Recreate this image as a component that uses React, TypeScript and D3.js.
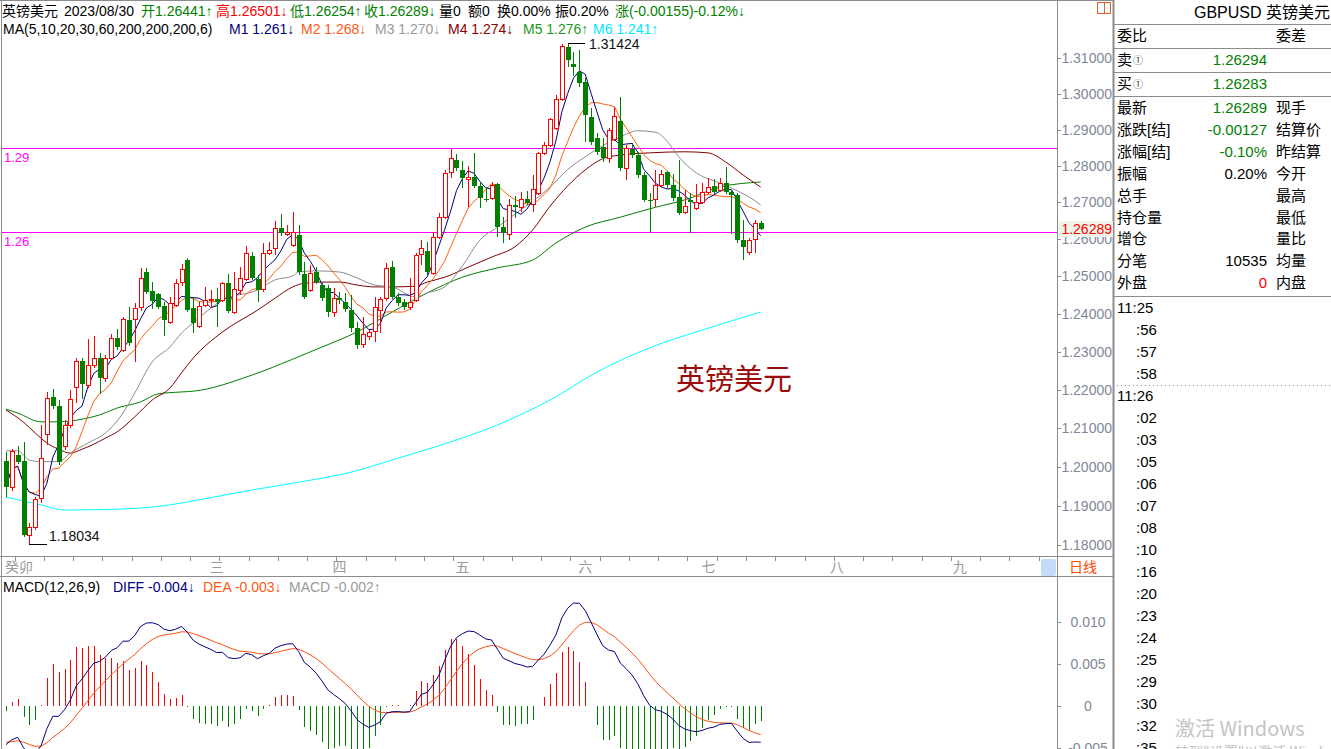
import React from "react";
import * as d3 from "d3";

const W = 1331;
const H = 749;

// Daily candles (GBPUSD)
const opens = [1.2015,1.1949,1.2030,1.2015,1.1825,1.1846,1.1919,1.2085,1.2181,1.2157,1.2053,1.2108,1.2207,1.2275,1.2212,1.2265,1.2283,1.2230,1.2283,1.2336,1.2304,1.2384,1.2386,1.2418,1.2512,1.2461,1.2453,1.2421,1.2378,1.2424,1.2485,1.2544,1.2416,1.2368,1.2424,1.2437,1.2440,1.2437,1.2482,1.2405,1.2464,1.2493,1.2555,1.2493,1.2466,1.2563,1.2577,1.2631,1.2614,1.2585,1.2612,1.2506,1.2464,1.2512,1.2477,1.2469,1.2405,1.2442,1.2432,1.2410,1.2362,1.2320,1.2341,1.2354,1.2410,1.2442,1.2525,1.2445,1.2432,1.2418,1.2437,1.2560,1.2569,1.2509,1.2606,1.2660,1.2783,1.2816,1.2789,1.2764,1.2770,1.2745,1.2709,1.2712,1.2750,1.2633,1.2614,1.2693,1.2688,1.2709,1.2696,1.2726,1.2836,1.2858,1.2905,1.2985,1.3131,1.3083,1.3061,1.3033,1.2935,1.2877,1.2852,1.2822,1.2874,1.2924,1.2794,1.2847,1.2830,1.2775,1.2707,1.2709,1.2748,1.2783,1.2748,1.2715,1.2674,1.2707,1.2685,1.2701,1.2729,1.2745,1.2734,1.2753,1.2729,1.2721,1.2598,1.2566,1.2601,1.26441];
const highs = [1.2039,1.2045,1.2053,1.2064,1.1856,1.1922,1.2108,1.2194,1.2202,1.2173,1.2121,1.2199,1.2283,1.2283,1.2333,1.2341,1.2296,1.2291,1.2347,1.2360,1.2392,1.2418,1.2429,1.2523,1.2523,1.2485,1.2456,1.2432,1.2445,1.2493,1.2533,1.2550,1.2442,1.2432,1.2472,1.2464,1.2469,1.2485,1.2506,1.2512,1.2525,1.2582,1.2566,1.2504,1.2590,1.2593,1.2650,1.2669,1.2639,1.2674,1.2639,1.2539,1.2531,1.2525,1.2482,1.2477,1.2469,1.2458,1.2456,1.2450,1.2378,1.2392,1.2357,1.2445,1.2445,1.2536,1.2542,1.2456,1.2440,1.2496,1.2563,1.2598,1.2593,1.2620,1.2671,1.2789,1.2847,1.2833,1.2814,1.2800,1.2836,1.2756,1.2742,1.2756,1.2753,1.2660,1.2709,1.2718,1.2729,1.2731,1.2775,1.2839,1.2866,1.2932,1.2996,1.3140,1.31424,1.3117,1.3122,1.3044,1.2960,1.2891,1.2877,1.2905,1.2963,1.2991,1.2858,1.2863,1.2838,1.2783,1.2726,1.2789,1.2789,1.2786,1.2778,1.2816,1.2734,1.2726,1.2750,1.2753,1.2767,1.2764,1.2767,1.2797,1.2734,1.2726,1.2652,1.2604,1.2652,1.26501];
const lows = [1.1923,1.1938,1.2008,1.1820,1.18034,1.1838,1.1907,1.2056,1.2150,1.2005,1.2043,1.2100,1.2165,1.2176,1.2205,1.2257,1.2189,1.2220,1.2278,1.2304,1.2298,1.2316,1.2273,1.2408,1.2452,1.2413,1.2412,1.2341,1.2373,1.2418,1.2474,1.2404,1.2349,1.2362,1.2418,1.2416,1.2365,1.2432,1.2402,1.2400,1.2450,1.2488,1.2490,1.2432,1.2458,1.2558,1.2558,1.2609,1.2609,1.2580,1.2505,1.2440,1.2458,1.2480,1.2435,1.2392,1.2392,1.2426,1.2405,1.2352,1.2307,1.2310,1.2331,1.2325,1.2349,1.2435,1.2440,1.2420,1.2410,1.2410,1.2432,1.2531,1.2505,1.2503,1.2601,1.2655,1.2767,1.2787,1.2740,1.2688,1.2740,1.2685,1.2700,1.2707,1.2606,1.2590,1.2598,1.2658,1.2674,1.2693,1.2674,1.2720,1.2830,1.2852,1.2898,1.2980,1.3075,1.3049,1.3020,1.2866,1.2858,1.2830,1.2812,1.2808,1.2868,1.2785,1.2762,1.2822,1.2767,1.2700,1.2620,1.2688,1.2742,1.2740,1.2705,1.2665,1.2668,1.2617,1.2680,1.2696,1.2724,1.2724,1.2729,1.2724,1.2614,1.2590,1.2544,1.2558,1.2563,1.26254];
const closes = [1.1949,1.2041,1.2013,1.1825,1.1846,1.1917,1.2022,1.2178,1.2157,1.2012,1.2108,1.2176,1.2275,1.2215,1.2265,1.2283,1.2230,1.2283,1.2336,1.2312,1.2386,1.2323,1.2416,1.2496,1.2458,1.2434,1.2418,1.2384,1.2429,1.2482,1.2520,1.2410,1.2376,1.2421,1.2437,1.2440,1.2432,1.2482,1.2408,1.2466,1.2496,1.2563,1.2496,1.2464,1.2563,1.2571,1.2631,1.2617,1.2620,1.2620,1.2512,1.2445,1.2509,1.2485,1.2442,1.2405,1.2442,1.2437,1.2413,1.2362,1.2318,1.2347,1.2352,1.2418,1.2440,1.2523,1.2445,1.2429,1.2418,1.2432,1.2558,1.2577,1.2512,1.2606,1.2660,1.2781,1.2822,1.2794,1.2767,1.2770,1.2745,1.2712,1.2707,1.2748,1.2633,1.2617,1.2693,1.2688,1.2709,1.2699,1.2737,1.2836,1.2858,1.2930,1.2985,1.3134,1.3094,1.3075,1.3030,1.2941,1.2866,1.2838,1.2822,1.2899,1.2938,1.2794,1.2849,1.2830,1.2775,1.2707,1.2704,1.2748,1.2778,1.2748,1.2712,1.2671,1.2690,1.2701,1.2701,1.2729,1.2742,1.2729,1.2753,1.2729,1.2721,1.2598,1.2579,1.2598,1.2644,1.26289];

const ma20Pts: [number, number][] = [[0,1.2041],[2,1.2041],[4,1.2017],[6,1.2013],[9,1.2013],[11,1.2035],[14,1.2061],[17,1.2087],[20,1.2139],[22,1.2191],[25,1.2273],[28,1.2312],[30,1.2349],[32,1.2376],[37,1.2437],[43,1.2464],[46,1.2491],[49,1.2501],[50,1.2512],[53,1.2515],[57,1.2512],[60,1.2496],[63,1.2477],[66,1.2472],[70,1.2445],[72,1.2456],[75,1.2472],[78,1.2528],[81,1.2598],[84,1.2633],[88,1.2680],[93,1.2742],[96,1.2790],[99,1.2825],[102,1.2856],[105,1.2880],[108,1.2897],[111,1.2893],[113,1.2868],[115,1.2825],[118,1.2781],[122,1.2753],[125,1.2732],[128,1.2705],[129,1.2693]];
const ma30Pts: [number, number][] = [[0,1.2147],[3,1.2115],[5,1.2087],[7,1.2061],[9,1.2045],[11,1.2035],[13,1.2045],[15,1.2058],[17,1.2074],[19,1.2090],[22,1.2129],[25,1.2173],[28,1.2204],[30,1.2244],[32,1.2283],[37,1.2352],[43,1.2410],[46,1.2442],[49,1.2472],[51,1.2482],[54,1.2485],[57,1.2485],[60,1.2477],[63,1.2472],[66,1.2472],[70,1.2474],[72,1.2485],[75,1.2498],[79,1.2525],[83,1.2552],[87,1.2580],[90,1.2625],[93,1.2690],[96,1.2745],[99,1.2789],[102,1.2820],[105,1.2830],[110,1.2836],[116,1.2839],[120,1.2836],[123,1.2811],[126,1.2775],[129,1.2742]];
const ma60Pts: [number, number][] = [[0,1.2149],[2,1.2139],[6,1.2116],[9,1.2116],[13,1.2123],[16,1.2134],[19,1.2152],[23,1.2168],[26,1.2189],[30,1.2194],[32,1.2196],[42,1.2238],[49,1.2280],[54,1.2312],[60,1.2352],[66,1.2405],[72,1.2456],[78,1.2498],[84,1.2523],[90,1.2544],[94,1.2590],[99,1.2633],[105,1.2660],[111,1.2687],[116,1.2707],[122,1.2742],[129,1.2756]];
const ma200Pts: [number, number][] = [[0,1.1922],[6,1.1902],[10,1.1889],[19,1.1891],[28,1.1902],[33,1.1915],[42,1.1940],[50,1.1960],[59,1.1986],[67,1.2022],[76,1.2064],[84,1.2108],[93,1.2173],[101,1.2246],[110,1.2310],[119,1.2357],[129,1.2405]];

// MACD state at the first bar
const macdStart = { ema12: 1.2010, ema26: 1.2056, dea: -0.0043 };

const priceTicks = [1.31, 1.30, 1.29, 1.28, 1.27, 1.26, 1.25, 1.24, 1.23, 1.22, 1.21, 1.20, 1.19, 1.18];
const macdTicks = [0.01, 0.005, 0, -0.005];
const macdTickLabels = ["0.010", "0.005", "0", "-0.005"];
const monthLabels = ["癸卯", "三", "四", "五", "六", "七", "八", "九"];
const monthIdx = [0, 35, 56, 77, 98, 119, 141, 162];
const levelLines = [1.285, 1.262];
const levelLabels = ["1.29", "1.26"];

const infoLabels = ["最新", "涨跌[结]", "涨幅[结]", "振幅", "总手", "持仓量", "增仓", "分笔", "外盘"];
const infoValues = ["1.26289", "-0.00127", "-0.10%", "0.20%", "", "", "", "10535", "0"];
const infoRight = ["现手", "结算价", "昨结算", "今开", "最高", "最低", "量比", "均量", "内盘"];
const timeList = ["11:25", ":56", ":57", ":58", "11:26", ":02", ":03", ":05", ":06", ":07", ":08", ":10", ":16", ":20", ":23", ":24", ":25", ":29", ":30", ":32", ":35"];

const RED = "#ff0000";
const GREEN = "#008000";
const FONT = "'Liberation Sans', Arial, 'Noto Sans CJK SC', sans-serif";

export default function App() {
  const n = closes.length;
  const x = d3.scaleLinear().domain([0, n - 1]).range([6, 760.7]);
  const y = d3.scaleLog().domain([1.18, 1.31]).range([545, 58]);
  const ym = d3.scaleLinear().domain([-0.005, 0.01]).range([748, 622]);

  const sma = (p: number) =>
    closes.map((_, i) => d3.mean(closes.slice(Math.max(0, i - p + 1), i + 1)) as number);
  const ma5 = sma(5);
  const ma10 = sma(10);

  let e12 = macdStart.ema12, e26 = macdStart.ema26, dea = macdStart.dea;
  const diffArr: number[] = [], deaArr: number[] = [], hist: number[] = [];
  closes.forEach((c, i) => {
    if (i > 0) {
      e12 = e12 + ((c - e12) * 2) / 13;
      e26 = e26 + ((c - e26) * 2) / 27;
    }
    const d = e12 - e26;
    if (i > 0) dea = dea + (d - dea) * 0.2;
    diffArr.push(d);
    deaArr.push(dea);
    hist.push(2 * (d - dea));
  });

  const lineArr = d3.line<number>().x((_, i) => x(i)).y((v) => y(v));
  const linePts = d3.line<[number, number]>().x((d) => x(d[0])).y((d) => y(d[1])).curve(d3.curveMonotoneX);
  const lineM = d3.line<number>().x((_, i) => x(i)).y((v) => ym(v));

  const weekTicks: number[] = [];
  for (let i = 2; i < 182; i += 5) weekTicks.push(i);

  const cx = (i: number) => Math.round(x(i));

  return (
    <div style={{ position: "fixed", left: 0, top: 0, width: W, height: H, background: "#fff" }}>
      <svg width={W} height={H} style={{ display: "block", fontFamily: FONT }}>
        <rect x={0} y={0} width={W} height={H} fill="#fff" />
        <defs>
          <clipPath id="mainClip"><rect x={2} y={1} width={1055} height={555} /></clipPath>
          <clipPath id="macdClip"><rect x={2} y={577} width={1055} height={172} /></clipPath>
        </defs>

        {/* frame */}
        <g stroke="#8c8c8c" strokeWidth={1} fill="none">
          <line x1={0} x2={1114} y1={0.5} y2={0.5} />
          <line x1={1.5} x2={1.5} y1={0} y2={H} />
          <line x1={1057.5} x2={1057.5} y1={0} y2={H} />
          <line x1={1113.5} x2={1113.5} y1={0} y2={H} strokeWidth={2} />
          <line x1={0} x2={1114} y1={556.5} y2={556.5} />
          <line x1={0} x2={1114} y1={576.5} y2={576.5} />
        </g>

        {/* header */}
        <g fontSize={14}>
          <text x={2} y={16} fill="#000">英镑美元</text>
          <text x={64} y={16} fill="#000">2023/08/30</text>
          <text x={141} y={16} fill={GREEN}>开1.26441↑</text>
          <text x={216} y={16} fill={RED}>高1.26501↓</text>
          <text x={290} y={16} fill={GREEN}>低1.26254↑</text>
          <text x={364} y={16} fill={GREEN}>收1.26289↓</text>
          <text x={439} y={16} fill="#000">量0</text>
          <text x={468} y={16} fill="#000">额0</text>
          <text x={497} y={16} fill="#000">换0.00%</text>
          <text x={555} y={16} fill="#000">振0.20%</text>
          <text x={615} y={16} fill={GREEN}>涨(-0.00155)-0.12%↓</text>

          <text x={3} y={34} fill="#000">MA(5,10,20,30,60,200,200,200,6)</text>
          <text x={229} y={34} fill="#000080">M1 1.261↓</text>
          <text x={301} y={34} fill="#ff5a14">M2 1.268↓</text>
          <text x={375} y={34} fill="#9a9a9a">M3 1.270↓</text>
          <text x={448} y={34} fill="#8b0000">M4 1.274↓</text>
          <text x={523} y={34} fill="#1a9a1a">M5 1.276↑</text>
          <text x={593} y={34} fill="#00e8ff">M6 1.241↑</text>
        </g>

        {/* level lines */}
        {levelLines.map((v, k) => (
          <g key={"lv" + k}>
            <line x1={2} x2={1057} y1={Math.round(y(v)) + 0.5} y2={Math.round(y(v)) + 0.5} stroke="#ff00ff" strokeWidth={1} />
            <text x={4} y={y(v) + 14} fontSize={13} fill="#ff00ff">{levelLabels[k]}</text>
          </g>
        ))}

        {/* MA lines */}
        <g clipPath="url(#mainClip)" fill="none" strokeWidth={1}>
          <path d={linePts(ma200Pts) || ""} stroke="#00ffff" />
          <path d={linePts(ma60Pts) || ""} stroke="#008000" />
          <path d={linePts(ma30Pts) || ""} stroke="#800000" />
          <path d={linePts(ma20Pts) || ""} stroke="#8c8c8c" />
          <path d={lineArr(ma10) || ""} stroke="#ff6010" />
          <path d={lineArr(ma5) || ""} stroke="#000080" />
        </g>

        {/* candles */}
        <g>
          {closes.map((c, i) => {
            const o = opens[i], h = highs[i], l = lows[i];
            const px = cx(i);
            const up = c >= o;
            const top = Math.round(y(Math.max(o, c)));
            const bot = Math.round(y(Math.min(o, c)));
            const yh = Math.round(y(h));
            const yl = Math.round(y(l));
            if (up) {
              return (
                <g key={i} stroke={RED} strokeWidth={1}>
                  <line x1={px + 0.5} x2={px + 0.5} y1={yh} y2={top} />
                  <line x1={px + 0.5} x2={px + 0.5} y1={Math.max(bot, top + 1)} y2={yl} />
                  <rect x={px - 1.5} y={top + 0.5} width={4} height={Math.max(bot - top, 1)} fill="#fff" />
                </g>
              );
            }
            return (
              <g key={i}>
                <line x1={px + 0.5} x2={px + 0.5} y1={yh} y2={yl} stroke={GREEN} strokeWidth={1} />
                <rect x={px - 2} y={top} width={5} height={Math.max(bot - top, 1)} fill={GREEN} />
              </g>
            );
          })}
        </g>

        {/* high / low marks */}
        <g fontSize={14} fill="#111">
          <line x1={cx(96)} x2={cx(96) + 17} y1={Math.round(y(1.31424)) + 0.5} y2={Math.round(y(1.31424)) + 0.5} stroke="#000" />
          <text x={cx(96) + 21} y={y(1.31424) + 6}>1.31424</text>
          <line x1={cx(4)} x2={cx(4) + 18} y1={Math.round(y(1.18034)) + 0.5} y2={Math.round(y(1.18034)) + 0.5} stroke="#000" />
          <text x={cx(4) + 20} y={y(1.18034) - 3}>1.18034</text>
        </g>

        <text x={676} y={390} fontSize={29} fill="#9b0c0c" fontFamily="'Noto Sans CJK SC', sans-serif">英镑美元</text>

        {/* right price axis */}
        <g fontSize={14}>
          {priceTicks.map((t) => (
            <g key={t}>
              <line x1={1057} x2={1061} y1={Math.round(y(t)) + 0.5} y2={Math.round(y(t)) + 0.5} stroke="#8c8c8c" />
              <text x={1112} y={y(t) + 5} textAnchor="end" fill="#7f8797">{t.toFixed(5)}</text>
            </g>
          ))}
          <rect x={1059} y={Math.round(y(1.26289)) - 8} width={54} height={16} fill="#eef4ea" />
          <text x={1112} y={y(1.26289) + 5} textAnchor="end" fill={RED}>1.26289</text>
        </g>
        <g fill="none" stroke="#e0602a" strokeWidth={1}>
          <rect x={1097.5} y={2.5} width={7} height={11} />
          <rect x={1104.5} y={2.5} width={6} height={11} />
        </g>

        {/* x axis strip */}
        <g stroke="#8c8c8c">
          {weekTicks.map((i) => (
            <line key={"wt" + i} x1={Math.round(x(i) - 3) + 0.5} x2={Math.round(x(i) - 3) + 0.5} y1={557} y2={561} />
          ))}
        </g>
        <g fontSize={14} fill="#9a9a9a">
          {monthLabels.map((m, k) => (
            <text key={m} x={x(monthIdx[k]) - 1} y={572}>{m}</text>
          ))}
        </g>
        <rect x={1041} y={559} width={15} height={17} rx={2} fill="#c6dbf7" />
        <text x={1069} y={572} fontSize={14} fill="#ff4a00">日线</text>

        {/* MACD panel */}
        <g fontSize={14}>
          <text x={3} y={592} fill="#000">MACD(12,26,9)</text>
          <text x={113} y={592} fill="#000080">DIFF -0.004↓</text>
          <text x={203} y={592} fill="#ff5a14">DEA -0.003↓</text>
          <text x={289} y={592} fill="#9a9a9a">MACD -0.002↑</text>
        </g>
        <g clipPath="url(#macdClip)">
          {hist.map((v, i) => (
            <line
              key={"h" + i}
              x1={cx(i) + 0.5}
              x2={cx(i) + 0.5}
              y1={Math.round(ym(0))}
              y2={Math.round(ym(v))}
              stroke={v >= 0 ? RED : GREEN}
              strokeWidth={1}
            />
          ))}
          <path d={lineM(deaArr) || ""} fill="none" stroke="#ff5010" strokeWidth={1} />
          <path d={lineM(diffArr) || ""} fill="none" stroke="#000080" strokeWidth={1} />
        </g>
        <g fontSize={14}>
          {macdTicks.map((t, k) => (
            <g key={"mt" + k}>
              <line x1={1057} x2={1061} y1={Math.round(ym(t)) + 0.5} y2={Math.round(ym(t)) + 0.5} stroke="#8c8c8c" />
              <text x={1088} y={ym(t) + 5} textAnchor="middle" fill="#7f8797">{macdTickLabels[k]}</text>
            </g>
          ))}
        </g>

        {/* right info panel */}
        <g stroke="#8c8c8c" strokeWidth={1}>
          {[24, 48, 72, 96, 296].map((yy) => (
            <line key={"hl" + yy} x1={1114} x2={W} y1={yy + 0.5} y2={yy + 0.5} />
          ))}
          <line x1={1117} x2={W} y1={385.5} y2={385.5} strokeDasharray="1,3" />
        </g>
        <g fontSize={15} fill="#000">
          <text x={1194} y={18} fontSize={16}>GBPUSD 英镑美元</text>
          <text x={1117} y={41}>委比</text>
          <text x={1276} y={41}>委差</text>
          <text x={1117} y={65}>卖</text>
          <text x={1133} y={64} fontSize={10} fill="#333">①</text>
          <text x={1267} y={65} textAnchor="end" fill={GREEN}>1.26294</text>
          <text x={1117} y={89}>买</text>
          <text x={1133} y={88} fontSize={10} fill="#333">①</text>
          <text x={1267} y={89} textAnchor="end" fill={GREEN}>1.26283</text>
          {infoLabels.map((lab, k) => {
            const yy = 113 + k * 21.9;
            const col = k < 3 ? GREEN : k === 8 ? RED : "#000";
            return (
              <g key={lab}>
                <text x={1117} y={yy}>{lab}</text>
                <text x={1267} y={yy} textAnchor="end" fill={col}>{infoValues[k]}</text>
                <text x={1276} y={yy}>{infoRight[k]}</text>
              </g>
            );
          })}
          {timeList.map((t, k) => (
            <text key={"t" + k} x={t.length > 3 ? 1117 : 1136} y={313 + k * 22} fontSize={15}>{t}</text>
          ))}
        </g>
        <text x={1175} y={736} fontSize={20} fill="#c4c4c4" fontFamily="'Noto Sans CJK SC', sans-serif">激活 Windows</text>
        <text x={1175} y={757} fontSize={14} fill="#c4c4c4" fontFamily="'Noto Sans CJK SC', sans-serif">转到"设置"以激活 Windows。</text>
      </svg>
    </div>
  );
}
